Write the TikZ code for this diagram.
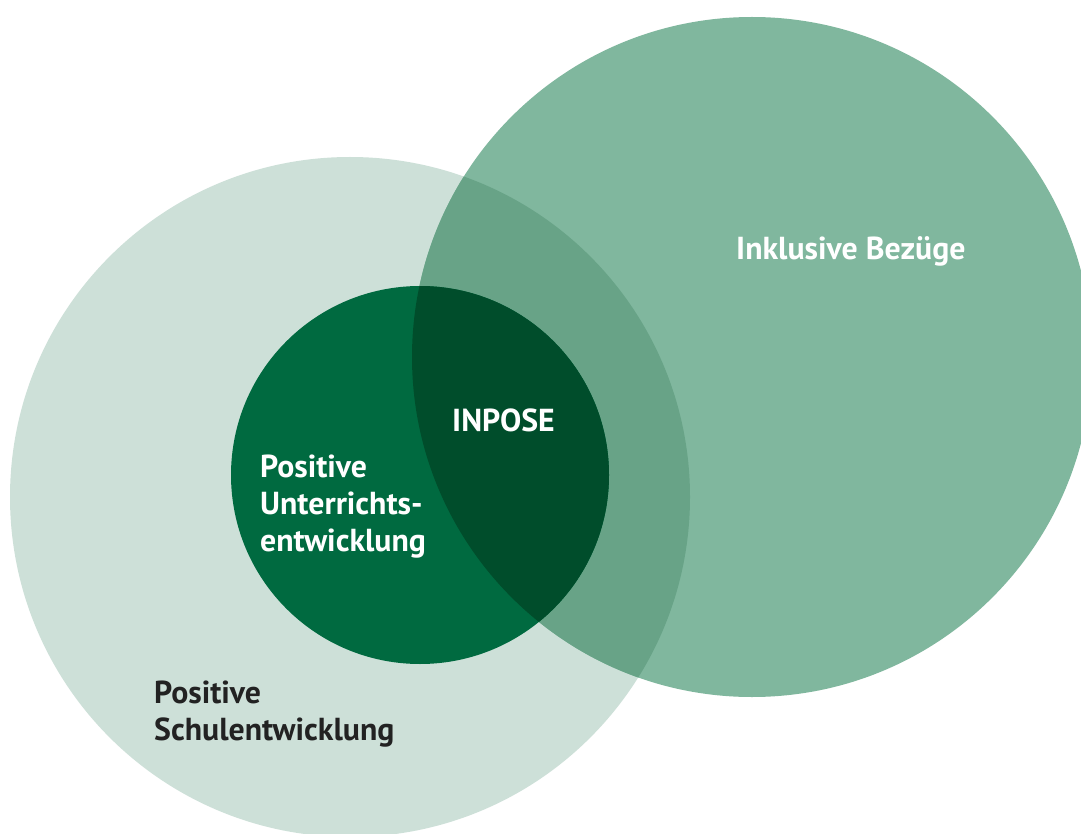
\documentclass[tikz,border=0pt]{standalone}
\usepackage{fontspec}
\setmainfont{PT Sans}
\definecolor{cLight}{HTML}{CDE0D8}
\definecolor{cRight}{HTML}{80B79E}
\definecolor{cOver}{HTML}{68A387}
\definecolor{cSmall}{HTML}{006A40}
\definecolor{cDeep}{HTML}{004D2B}
\definecolor{cText}{HTML}{222222}
\begin{document}
\begin{tikzpicture}[x=1pt,y=-1pt,
  lbl/.style={font=\bfseries\fontsize{31.8}{37}\selectfont, inner sep=0pt, anchor=base west}]
\useasboundingbox (0,0) rectangle (1081,834);
\clip (0,0) rectangle (1081,834);
\fill[white] (0,0) rectangle (1081,834);
\fill[cLight] (350,497) circle (340);
\fill[cRight] (752,357) circle (340);
\begin{scope}
  \clip (350,497) circle (340);
  \fill[cOver] (752,357) circle (340);
\end{scope}
\fill[cSmall] (420,475) circle (189);
\begin{scope}
  \clip (420,475) circle (189);
  \fill[cDeep] (752,357) circle (340);
\end{scope}
\node[lbl, white] (incl) at (736,260) {Inklusive Bezüge};
\node[lbl, white] (inpose) at (452,431) {INPOSE};
\node[lbl, white] (unt1) at (260,477) {Positive};
\node[lbl, white] (unt2) at (260,514) {Unterrichts-};
\node[lbl, white] (unt3) at (260,551) {entwicklung};
\node[lbl, cText] (schul1) at (154,703) {Positive};
\node[lbl, cText] (schul2) at (154,740) {Schulentwicklung};
\end{tikzpicture}
\end{document}
